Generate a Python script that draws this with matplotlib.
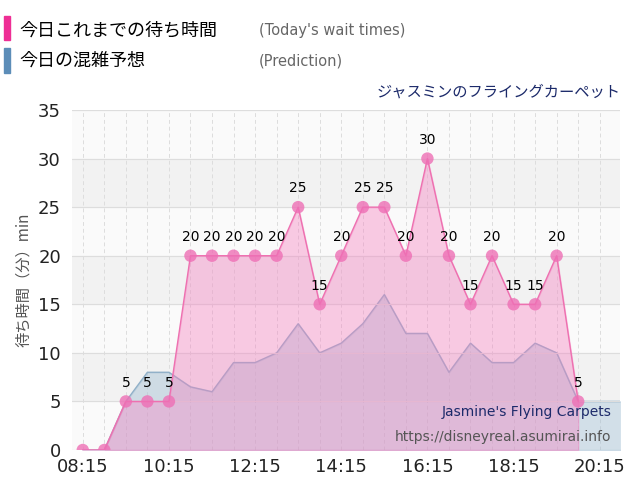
import matplotlib
matplotlib.use("Agg")
import matplotlib.pyplot as plt
import matplotlib.patches as mpatches
import numpy as np

plt.rcParams["font.family"] = ["DejaVu Sans", "Noto Sans CJK JP"]

times = ["08:15","08:45","09:15","09:45","10:15","10:45","11:15","11:45","12:15","12:45",
         "13:15","13:45","14:15","14:45","15:15","15:45","16:15","16:45","17:15","17:45",
         "18:15","18:45","19:15","19:45"]
waits = [0,0,5,5,5,20,20,20,20,20,25,15,20,25,25,20,30,20,15,20,15,15,20,5]
pred_times = times + ["20:15","20:45"]
pred = [0,0,5,8,8,6.5,6,9,9,10,13,10,11,13,16,12,12,8,11,9,9,11,10,5,5,5]
tick_labels = ["08:15","10:15","12:15","14:15","16:15","18:15","20:15"]

def tm(s):
    h, m = s.split(":"); return int(h)*60+int(m)

x = np.array([tm(t) for t in times])
xp = np.array([tm(t) for t in pred_times])

fig = plt.figure(figsize=(6.4,5.0), dpi=100)
ax = fig.add_axes([0.1125, 0.1, 0.856, 0.68])
ax.set_xlim(tm("08:00"), tm("20:43"))
ax.set_ylim(0, 35)
for i in range(0, 35, 10):
    ax.axhspan(i+5, i+10, color="#f2f2f2", zorder=0)
ax.set_facecolor("#fafafa")
ax.grid(axis="y", color="#dddddd", lw=0.8)
for t in xp:
    ax.axvline(t, color="#dddddd", lw=0.7, ls=(0,(4,3)), zorder=0)

ax.fill_between(xp, pred, color="#a3bfd3", alpha=0.45, zorder=1)
ax.plot(xp, pred, color="#90b0c8", lw=1, zorder=1)
ax.fill_between(x, waits, color="#f580c0", alpha=0.4, zorder=2)
ax.plot(x, waits, color="#ee70b0", lw=1, zorder=3)
ax.scatter(x, waits, s=80, color="#ee6fb5", alpha=0.8, zorder=4, edgecolors="none")
for xi, w in zip(x, waits):
    if w > 0:
        ax.text(xi, w+1.2, str(w), ha="center", va="bottom", fontsize=10, zorder=5)

ax.set_yticks(range(0, 36, 5))
ax.set_xticks([tm(t) for t in tick_labels])
ax.set_xticklabels(tick_labels)
ax.tick_params(labelsize=13, length=0, colors="#222222")
ax.tick_params(axis="y", pad=8)
ax.tick_params(axis="x", pad=6)
for s in ax.spines.values():
    s.set_visible(False)
ax.set_ylabel("待ち時間（分）min", fontsize=11, color="#555555", fontfamily="Noto Sans CJK JP")

ax.text(0.985, 0.10, "Jasmine's Flying Carpets", transform=ax.transAxes, ha="right",
        fontsize=10, color="#1c2a6a")
ax.text(0.985, 0.025, "https://disneyreal.asumirai.info", transform=ax.transAxes, ha="right",
        fontsize=10, color="#555555")

fig.patches.append(mpatches.Rectangle((0.006, 0.92), 0.01, 0.048, color="#ee2e95", transform=fig.transFigure))
fig.patches.append(mpatches.Rectangle((0.006, 0.855), 0.01, 0.048, color="#5c8db8", transform=fig.transFigure))
fig.text(0.03, 0.94, "今日これまでの待ち時間", fontsize=13, va="center", fontfamily="Noto Sans CJK JP")
fig.text(0.03, 0.878, "今日の混雑予想", fontsize=13, va="center", fontfamily="Noto Sans CJK JP")
fig.text(0.405, 0.94, "(Today's wait times)", fontsize=10.5, va="center", color="#666666")
fig.text(0.405, 0.878, "(Prediction)", fontsize=10.5, va="center", color="#666666")
fig.text(0.97, 0.815, "ジャスミンのフライングカーペット", fontsize=11, ha="right", va="center",
         color="#1c2a6a", fontfamily="Noto Sans CJK JP")

fig.savefig("out.png", dpi=100)
